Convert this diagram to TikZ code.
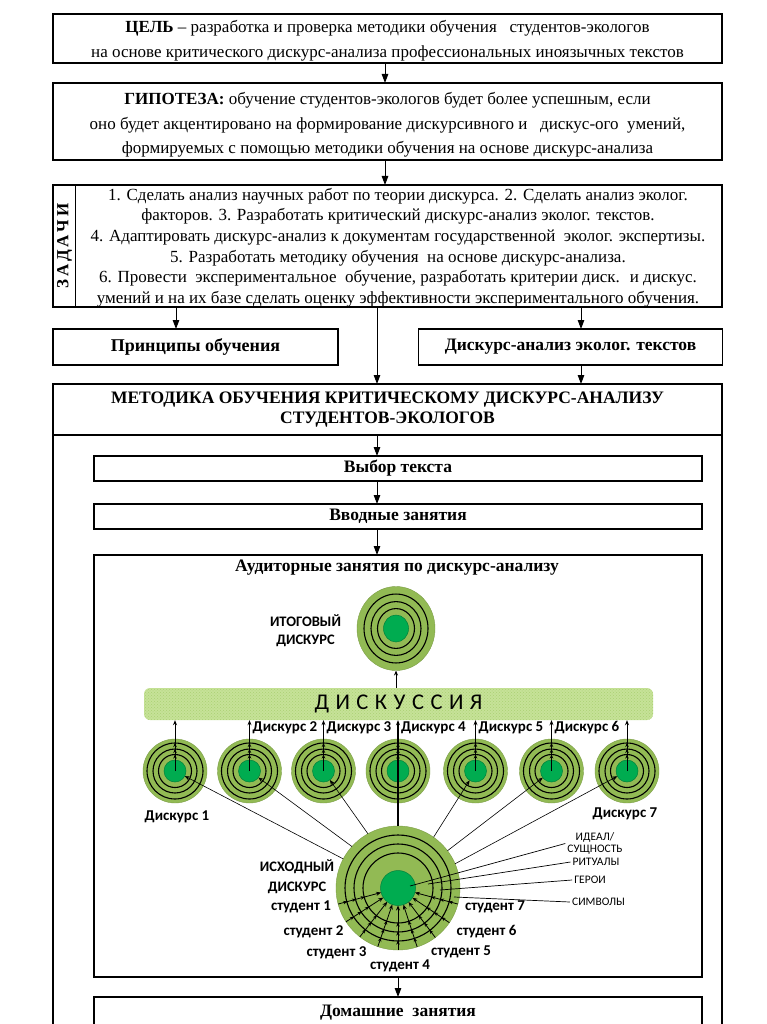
\documentclass[tikz,border=0pt]{standalone}
\usepackage{fontspec}
\setmainfont{Liberation Serif}
\newfontfamily\calfont{Carlito}
\usetikzlibrary{arrows.meta,decorations.markings,patterns,shapes.geometric,calc}
\definecolor{olivec}{RGB}{146,186,84}
\definecolor{diskc}{RGB}{0,172,80}
\definecolor{bandc}{RGB}{198,226,152}
\definecolor{bandp}{RGB}{170,208,115}
\newcommand\smalltarget[3]{%
  \node[outerc, minimum size=64pt] (c#1) at (#2,#3) {};
  \foreach \rr in {28,22,16.5} \draw[ring] (c#1.center) circle [radius=\rr];
  \node[diskn, minimum size=22pt] (d#1) at (#2,#3) {};
}
\begin{document}
\begin{tikzpicture}[x=1pt,y=-1pt,
  bx/.style={draw, line width=1.1pt, inner sep=0pt, outer sep=0pt, align=center},
  serif/.style={font=\fontsize{17}{24.5}\selectfont, inner sep=0pt, align=center},
  serifb/.style={font=\fontsize{17.5}{20}\selectfont\bfseries},
  flow/.style={-{Triangle[length=9pt,width=6.5pt]}, line width=1pt},
  ring/.style={draw=black, line width=1.1pt},
  outerc/.style={circle, fill=olivec, draw=olivec!85!black, line width=0.4pt, inner sep=0pt, outer sep=0pt},
  diskn/.style={circle, fill=diskc, draw=diskc!75!black, line width=0.5pt, inner sep=0pt, outer sep=0pt},
  lab/.style={font=\calfont\bfseries\fontsize{15}{18}\selectfont, inner sep=0pt, align=center},
  caplab/.style={font=\calfont\fontsize{11.5}{11.5}\selectfont, inner sep=0pt, align=center},
  tip/.style={-{Stealth[length=5pt,width=4pt]}},
  vup/.style={line width=0.8pt, tip, decoration={markings,
      mark=at position 16.5pt with {\arrow{Stealth[length=4pt,width=3.5pt]}},
      mark=at position 22pt with {\arrow{Stealth[length=4pt,width=3.5pt]}},
      mark=at position 28pt with {\arrow{Stealth[length=4pt,width=3.5pt]}}}, postaction={decorate}},
  vfour/.style={line width=1.2pt, tip, decoration={markings,
      mark=at position 71.5pt with {\arrow{Stealth[length=4pt,width=3.5pt]}},
      mark=at position 77pt with {\arrow{Stealth[length=4pt,width=3.5pt]}},
      mark=at position 83pt with {\arrow{Stealth[length=4pt,width=3.5pt]}}}, postaction={decorate}},
  stud/.style={line width=0.8pt, tip, decoration={markings,
      mark=at position 9.5pt with {\arrow{Stealth[length=4pt,width=3.5pt]}},
      mark=at position 18.5pt with {\arrow{Stealth[length=4pt,width=3.5pt]}},
      mark=at position 27.5pt with {\arrow{Stealth[length=4pt,width=3.5pt]}}}, postaction={decorate}},
  diag/.style={line width=0.6pt, tip},
  thinl/.style={line width=0.7pt}
]
\useasboundingbox (0,0) rectangle (767,1024);
\fill[white] (0,0) rectangle (767,1024);
\clip (0,0) rectangle (767,1024);

% helper x positions
\coordinate (xa) at (385,0);
\coordinate (xb) at (377,0);
\coordinate (xl) at (176,0);
\coordinate (xr) at (581,0);
\coordinate (xc) at (398,0);

% ---- top boxes
\node[bx, minimum width=669pt, minimum height=49pt] (goal) at (387.5,38.5) {};
\node[serif] (goaltext) at (387.5,41)
  {\textbf{ЦЕЛЬ} – разработка и проверка методики обучения \ \ студентов-экологов\\
   на основе критического дискурс-анализа профессиональных иноязычных текстов};
\node[bx, minimum width=669pt, minimum height=77pt] (hyp) at (387.5,121.5) {};
\node[serif] (hyptext) at (387.5,125)
  {\textbf{ГИПОТЕЗА:} обучение студентов-экологов будет более успешным, если\\
   оно будет акцентировано на формирование дискурсивного и \ \ дискус-ого \ умений,\\
   формируемых с помощью методики обучения на основе дискурс-анализа};
\node[bx, minimum width=669pt, minimum height=122pt] (tasks) at (387.5,246) {};
\draw[line width=1pt] ([xshift=22.5pt]tasks.north west) -- ([xshift=22.5pt]tasks.south west);
\node[rotate=90, font=\fontsize{17}{17}\selectfont\bfseries, inner sep=0pt] (zad) at (64.5,246) {З\,А\,Д\,А\,Ч\,И};
\node[align=center, inner sep=0pt, font=\fontsize{17}{20.6}\selectfont] (taskstext) at (398,247.5)
  {1. Сделать анализ научных работ по теории дискурса. 2. Сделать анализ эколог.\\
   факторов. 3. Разработать критический дискурс-анализ эколог. текстов.\\
   4. Адаптировать дискурс-анализ к документам государственной \ эколог. экспертизы.\\
   5. Разработать методику обучения \ на основе дискурс-анализа.\\
   6. Провести \ экспериментальное \ обучение, разработать критерии диск. \ и дискус.\\
   умений и на их базе сделать оценку эффективности экспериментального обучения.};
\node[bx, font=\fontsize{18}{20}\selectfont\bfseries, minimum width=285pt, minimum height=36pt] (princ) at (195.5,347) {Принципы обучения};
\node[bx, font=\fontsize{17.5}{20}\selectfont\bfseries, minimum width=304pt, minimum height=36pt] (dan) at (570.5,347) {Дискурс-анализ эколог. текстов};

% ---- methodology
\node[bx, minimum width=669pt, minimum height=660pt] (method) at (387.5,714) {};
\node[bx, serifb, minimum width=669pt, minimum height=51pt] (mhead) at (387.5,409.5)
  {МЕТОДИКА ОБУЧЕНИЯ КРИТИЧЕСКОМУ ДИСКУРС-АНАЛИЗУ\\СТУДЕНТОВ-ЭКОЛОГОВ};
\node[bx, serifb, minimum width=608pt, minimum height=25pt] (vybor) at (398,468.5) {Выбор текста};
\node[bx, serifb, minimum width=608pt, minimum height=25pt] (vvod) at (398,516.5) {Вводные занятия};
\node[bx, minimum width=608pt, minimum height=422pt] (aud) at (398,766) {};
\node[serifb, inner sep=0pt] (audt) at (397,568) {Аудиторные занятия по дискурс-анализу};
\node[bx, serifb, minimum width=608pt, minimum height=32pt] (home) at (398,1013) {Домашние \ занятия};

% ---- flow arrows
\draw[flow] (goal.south -| xa) -- (hyp.north -| xa);
\draw[flow] (hyp.south -| xa) -- (tasks.north -| xa);
\draw[flow] (tasks.south -| xl) -- (princ.north -| xl);
\draw[flow] (tasks.south -| xb) -- (method.north -| xb);
\draw[flow] (tasks.south -| xr) -- (dan.north -| xr);
\draw[flow] (dan.south -| xr) -- (method.north -| xr);
\draw[flow] (mhead.south -| xb) -- (vybor.north -| xb);
\draw[flow] (vybor.south -| xb) -- (vvod.north -| xb);
\draw[flow] (vvod.south -| xb) -- (aud.north -| xb);
\draw[flow] (aud.south -| xc) -- (home.north -| xc);

% ---- discussion band
\node[rounded corners=6pt, minimum width=509pt, minimum height=32pt, inner sep=0pt,
      preaction={fill=bandc}, pattern=crosshatch dots, pattern color=bandp,
      font=\calfont\fontsize{22.5}{22}\selectfont] (band) at (398.5,704)
      {Д\hspace{6.5pt}И\hspace{6.5pt}С\hspace{6.5pt}К\hspace{6.5pt}У\hspace{6.5pt}С\hspace{6.5pt}С\hspace{6.5pt}И\hspace{6.5pt}Я};

% ---- final discourse (top)
\node[ellipse, fill=olivec, draw=olivec!85!black, line width=0.4pt, inner sep=0pt, outer sep=0pt,
      minimum width=78pt, minimum height=84pt] (ct) at (396,628.5) {};
\foreach \rr in {32,25,18.5} \draw[ring] (ct.center) ellipse [x radius=\rr, y radius=1.077*\rr];
\node[ellipse, fill=diskc, draw=diskc!75!black, line width=0.5pt, inner sep=0pt, outer sep=0pt,
      minimum width=25pt, minimum height=27pt] (dt) at (396,628.5) {};
\node[lab, font=\calfont\bfseries\fontsize{14.5}{18}\selectfont] (tlab) at (305.5,631) {ИТОГОВЫЙ\\ДИСКУРС};
\draw[line width=0.8pt, tip] (band.north -| ct.south) -- (ct.south);

% ---- small targets
\smalltarget{1}{175}{771}
\smalltarget{2}{249.5}{771}
\smalltarget{3}{323.5}{771}
\smalltarget{4}{398}{771}
\smalltarget{5}{475.5}{771}
\smalltarget{6}{551.5}{771}
\smalltarget{7}{627}{771}

% ---- big target
\node[outerc, minimum size=124pt] (cb) at (398,888) {};
\foreach \rr in {53,44,35} \draw[ring] (cb.center) circle [radius=\rr];
\node[diskn, minimum size=35pt] (db) at (398,888) {};

% vertical arrows to the band
\foreach \i in {1,2,3,5,6,7} \draw[vup] (d\i.center) -- (band.south -| d\i.center);
\draw[vfour] (cb.north) -- (band.south -| cb.north);

% diagonal arrows from initial discourse
\draw[diag] (cb.152) -- (d1);
\draw[diag] (cb.138) -- (d2);
\draw[diag] (cb.119) -- (d3);
\draw[diag] (cb.55) -- (d5);
\draw[diag] (cb.37) -- (d6);
\draw[diag] (cb.23) -- (d7);

% student arrows
\foreach \a in {195,213.75,232.5,251.25,270,288.75,307.5,326.25,345}
  \draw[stud] (cb.\a) -- (db.\a);

% labels
\node[lab, anchor=west] (l2) at (252.5,728) {Дискурс 2};
\node[lab, anchor=west] (l3) at (326.5,728) {Дискурс 3};
\node[lab, anchor=west] (l4) at (401,728) {Дискурс 4};
\node[lab, anchor=west] (l5) at (478.5,728) {Дискурс 5};
\node[lab, anchor=west] (l6) at (554.5,728) {Дискурс 6};
\node[lab] (l1) at (177,817) {Дискурс 1};
\node[lab] (l7) at (625,814) {Дискурс 7};
\node[lab, font=\calfont\bfseries\fontsize{14.5}{20}\selectfont] (isx) at (297,877) {ИСХОДНЫЙ\\ДИСКУРС};
\node[lab] (s1) at (301,907) {студент 1};
\node[lab] (s2) at (313.5,932) {студент 2};
\node[lab] (s3) at (336.5,953) {студент 3};
\node[lab] (s4) at (400,966) {студент 4};
\node[lab] (s5) at (461,952) {студент 5};
\node[lab] (s6) at (486.5,932) {студент 6};
\node[lab] (s7) at (495,907) {студент 7};

% layer labels
\node[caplab] (ideal) at (595,843.5) {ИДЕАЛ/\\СУЩНОСТЬ};
\node[caplab] (rit) at (596,862) {РИТУАЛЫ};
\node[caplab] (her) at (590,880) {ГЕРОИ};
\node[caplab] (sym) at (598.5,902) {СИМВОЛЫ};
\coordinate (tideal) at (410,886);
\coordinate (trit) at (428,884);
\coordinate (ther) at (440,890);
\coordinate (tsym) at (454,897);
\draw[thinl] ([xshift=-2pt]ideal.west) -- (tideal);
\draw[thinl] ([xshift=-2pt]rit.west) -- (trit);
\draw[thinl] ([xshift=-2pt]her.west) -- (ther);
\draw[thinl] ([xshift=-2pt]sym.west) -- (tsym);
\end{tikzpicture}
\end{document}
